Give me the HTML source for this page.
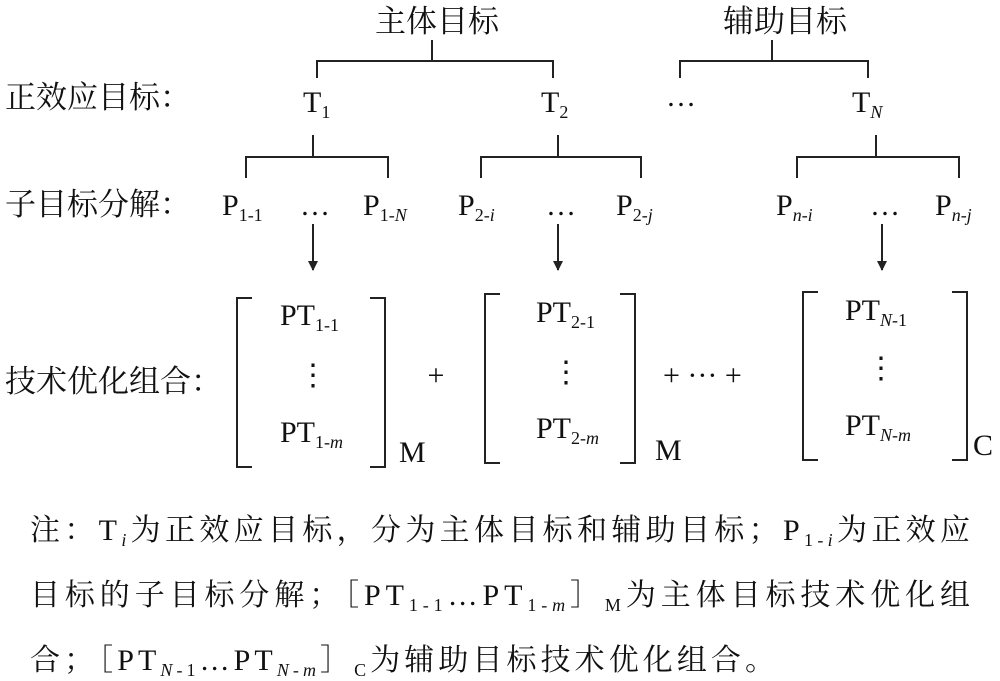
<!DOCTYPE html>
<html><head><meta charset="utf-8"><style>
html,body{margin:0;padding:0;background:#fff;}
svg{display:block}
.s{font-family:"Liberation Serif","Noto Serif CJK SC",serif;font-size:30px;}
</style></head><body>
<svg width="1000" height="681" viewBox="0 0 1000 681" xmlns="http://www.w3.org/2000/svg">
<defs><marker id="a" markerWidth="10" markerHeight="12" refX="9" refY="5" orient="auto" markerUnits="userSpaceOnUse"><path d="M0,0 L10,5 L0,10 z" fill="#222"/></marker></defs>
<g fill="none" stroke="#222" stroke-width="2">
<path d="M432 40V61 M317 78V61H553V78"/>
<path d="M772 40V61 M680 78V61H868V78"/>
<path d="M313 135V157 M246 178V157H388V178"/>
<path d="M558 135V157 M481 178V157H641V178"/>
<path d="M876 135V157 M797 178V157H959V178"/>
<path d="M313 224V270" marker-end="url(#a)"/>
<path d="M558 224V270" marker-end="url(#a)"/>
<path d="M882 224V270" marker-end="url(#a)"/>
<path d="M252 298H237V467H252 M370 298H385V467H370"/>
<path d="M500 294H485V463H500 M620 294H635V463H620"/>
<path d="M818 292H803V460H818 M952 292H967V460H952"/>
</g>
<g class="s" fill="#111">
<text x="437" y="32" text-anchor="middle" font-size="31">主体目标</text>
<text x="785" y="32" text-anchor="middle" font-size="31">辅助目标</text>
<text x="5" y="108" font-size="31">正效应目标：</text>
<text x="5" y="215" font-size="31">子目标分解：</text>
<text x="5" y="392" font-size="31">技术优化组合：</text>
<text x="303" y="112">T<tspan font-size="18" dy="6">1</tspan></text>
<text x="541" y="112">T<tspan font-size="18" dy="6">2</tspan></text>
<text x="666" y="106">…</text>
<text x="852" y="112">T<tspan font-size="18" dy="6" font-style="italic">N</tspan></text>
<text x="222" y="215">P<tspan font-size="18" dy="6">1-1</tspan></text>
<text x="300" y="215">…</text>
<text x="363" y="215">P<tspan font-size="18" dy="6">1-<tspan font-style="italic">N</tspan></tspan></text>
<text x="458" y="215">P<tspan font-size="18" dy="6">2-<tspan font-style="italic">i</tspan></tspan></text>
<text x="546" y="215">…</text>
<text x="616" y="215">P<tspan font-size="18" dy="6">2-<tspan font-style="italic">j</tspan></tspan></text>
<text x="776" y="215">P<tspan font-size="18" dy="6" font-style="italic">n-i</tspan></text>
<text x="870" y="215">…</text>
<text x="935" y="215">P<tspan font-size="18" dy="6" font-style="italic">n-j</tspan></text>
<text x="280" y="325">PT<tspan font-size="18" dy="6">1-1</tspan></text>
<text x="313" y="385" text-anchor="middle">⋮</text>
<text x="280" y="442">PT<tspan font-size="18" dy="6">1-<tspan font-style="italic">m</tspan></tspan></text>
<text x="399" y="462">M</text>
<text x="436" y="385" text-anchor="middle">+</text>
<text x="536" y="322">PT<tspan font-size="18" dy="6">2-1</tspan></text>
<text x="566" y="382" text-anchor="middle">⋮</text>
<text x="536" y="438">PT<tspan font-size="18" dy="6">2-<tspan font-style="italic">m</tspan></tspan></text>
<text x="655" y="460">M</text>
<text x="663" y="385">+ ··· +</text>
<text x="845" y="320">PT<tspan font-size="18" dy="6" font-style="italic">N</tspan><tspan font-size="18">-1</tspan></text>
<text x="881" y="378" text-anchor="middle">⋮</text>
<text x="845" y="435">PT<tspan font-size="18" dy="6" font-style="italic">N</tspan><tspan font-size="18">-<tspan font-style="italic">m</tspan></tspan></text>
<text x="973" y="455">C</text>
</g>
<g class="s" fill="#111" font-size="31">
<text x="30" y="540" textLength="940" lengthAdjust="spacing">注：T<tspan font-size="18" dy="6" font-style="italic">i</tspan><tspan dy="-6">为正效应目标，分为主体目标和辅助目标；P</tspan><tspan font-size="18" dy="6">1-<tspan font-style="italic">i</tspan></tspan><tspan dy="-6">为正效应</tspan></text>
<text x="30" y="605" textLength="940" lengthAdjust="spacing">目标的子目标分解；［PT<tspan font-size="18" dy="6">1-1</tspan><tspan dy="-6">…PT</tspan><tspan font-size="18" dy="6">1-<tspan font-style="italic">m</tspan></tspan><tspan dy="-6">］</tspan><tspan font-size="18" dy="6">M</tspan><tspan dy="-6">为主体目标技术优化组</tspan></text>
<text x="30" y="670" textLength="745" lengthAdjust="spacing">合；［PT<tspan font-size="18" dy="6" font-style="italic">N</tspan><tspan font-size="18">-1</tspan><tspan dy="-6">…PT</tspan><tspan font-size="18" dy="6" font-style="italic">N</tspan><tspan font-size="18">-<tspan font-style="italic">m</tspan></tspan><tspan dy="-6">］</tspan><tspan font-size="18" dy="6">C</tspan><tspan dy="-6">为辅助目标技术优化组合。</tspan></text>
</g>
</svg>
</body></html>
